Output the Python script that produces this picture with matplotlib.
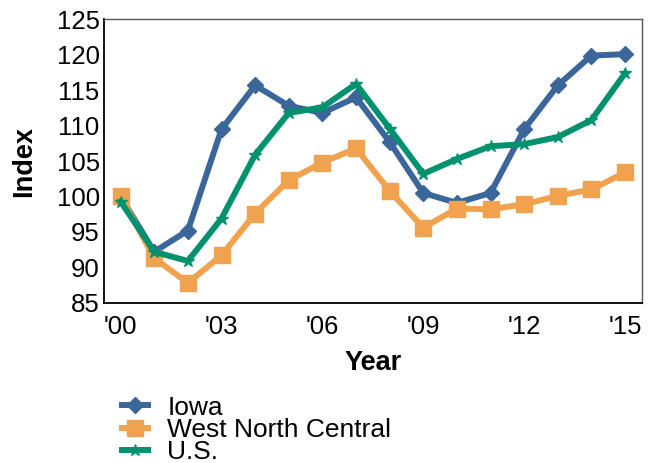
import matplotlib
matplotlib.use("Agg")
import matplotlib.pyplot as plt
import numpy as np

plt.rcParams['font.family'] = ['Liberation Sans', 'DejaVu Sans']

years = list(range(2000, 2016))
tick_years = [2000, 2003, 2006, 2009, 2012, 2015]
tick_labels = ["'00", "'03", "'06", "'09", "'12", "'15"]

iowa = [100.0, 92.2, 95.2, 109.5, 115.7, 112.8, 111.8, 114.0,
        107.7, 100.5, 99.1, 100.5, 109.5, 115.7, 119.9, 120.1]
wnc = [100.1, 91.3, 87.8, 91.7, 97.6, 102.3, 104.8, 106.8,
       100.8, 95.6, 98.3, 98.2, 98.9, 100.1, 101.0, 103.4]
us = [99.3, 92.2, 90.9, 96.9, 105.9, 111.8, 112.6, 115.9,
      109.6, 103.2, 105.3, 107.1, 107.4, 108.4, 110.8, 117.4]

fig = plt.figure(figsize=(6.57, 4.63), dpi=100)
ax = fig.add_axes([0.158, 0.346, 0.819, 0.612])

# order matters: iowa at the back, U.S. on top
ax.plot(years, iowa, color='#3B6699', lw=4.3, marker='D', ms=8, label='Iowa', zorder=2)
ax.plot(years, wnc, color='#F0A24F', lw=4.3, marker='s', ms=11, label='West North Central', zorder=3)
ax.plot(years, us, color='#00916E', lw=4.3, marker='*', ms=9, label='U.S.', zorder=4)

ax.set_xlim(1999.5, 2015.5)
ax.set_ylim(85, 125)
ax.set_yticks(range(85, 126, 5))
ax.set_xticks(tick_years)
ax.set_xticklabels(tick_labels)
ax.tick_params(length=0, labelsize=18.5)
ax.tick_params(axis='y', pad=3)
ax.tick_params(axis='x', pad=9)

for s in ['top', 'right']:
    ax.spines[s].set_color('#555555')
    ax.spines[s].set_linewidth(1.0)
for s in ['left', 'bottom']:
    ax.spines[s].set_color('black')
    ax.spines[s].set_linewidth(1.3)

ax.set_xlabel('Year', fontsize=19.5, fontweight='bold', labelpad=8)
ax.set_ylabel('Index', fontsize=19.5, fontweight='bold', labelpad=14)

ax.legend(loc='upper left', bbox_to_anchor=(0.015, -0.29), frameon=False,
          fontsize=19, handlelength=0.95, labelspacing=-0.06, borderaxespad=0,
          handletextpad=0.75)

fig.savefig('out.png', dpi=100)
